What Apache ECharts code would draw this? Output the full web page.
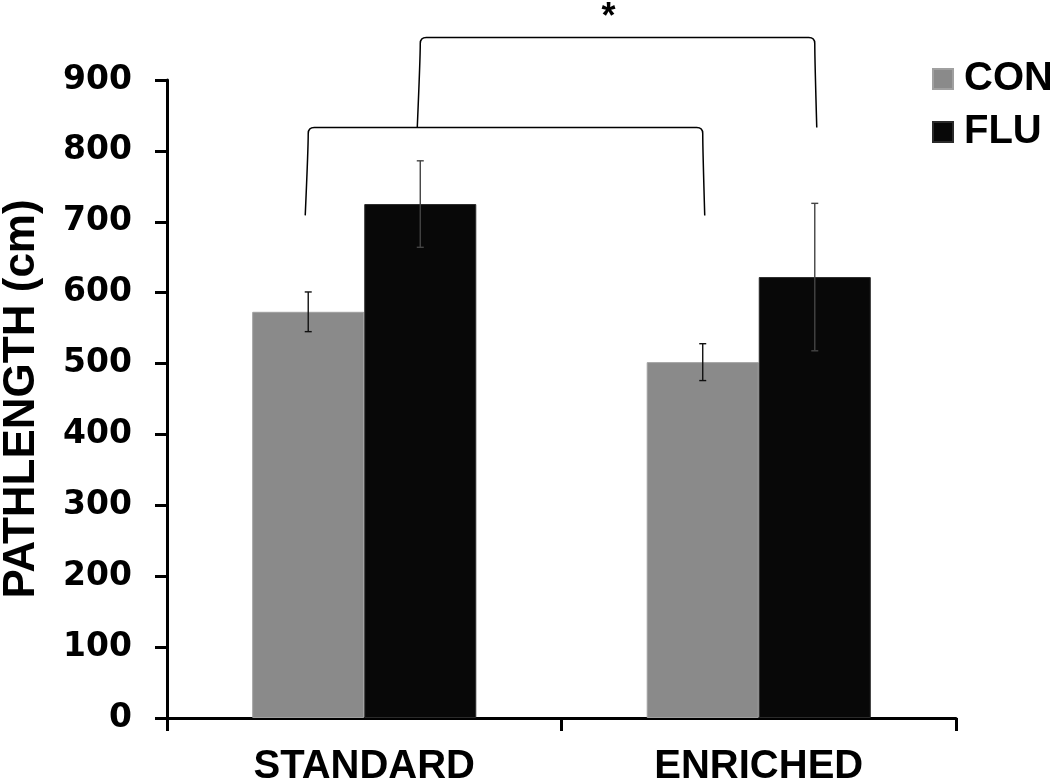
<!DOCTYPE html>
<html><head><meta charset="utf-8">
<script src="https://cdn.jsdelivr.net/npm/echarts@6/dist/echarts.min.js"></script>
<style>html,body{margin:0;padding:0;background:#fff}#c{width:1050px;height:783px}</style>
</head><body><div id="c"></div>
<script>
const categories = ['STANDARD', 'ENRICHED'];
const seriesNames = ['CON', 'FLU'];
const conValues = [573, 502];
const conErrors = [28, 26];
const fluValues = [725, 622];
const fluErrors = [61, 104];
const yTicks = [0, 100, 200, 300, 400, 500, 600, 700, 800, 900];
// brackets: [catStart, seriesStart, catEnd, seriesEnd, legBottom, top]
const brackets = [
  [0, 0, 1, 0, 709, 833],
  [0, 1, 1, 1, 833, 960]
];
const sigLabel = '*';
const sigValue = 988;

const FONT = 'Liberation Sans, Arial, sans-serif';
const FONT_WIDE = 'DejaVu Sans, sans-serif';
const BAR_RATIO = 0.284;
const colors = ['#8a8a8a', '#080808'];

function offsetFor(api, s) {
  const band = api.size([1, 0])[0];
  return (s === 0 ? -1 : 1) * band * BAR_RATIO / 2;
}

function errorRender(sIdx) {
  return function (params, api) {
    const c = api.value(0), v = api.value(1), e = api.value(2);
    const off = offsetFor(api, sIdx);
    const top = api.coord([c, v + e]);
    const bot = api.coord([c, v - e]);
    const x = top[0] + off;
    const cap = 3.5;
    const st = { stroke: sIdx === 0 ? '#111' : '#444', lineWidth: 1.4 };
    return { type: 'group', children: [
      { type: 'line', shape: { x1: x, y1: top[1], x2: x, y2: bot[1] }, style: st },
      { type: 'line', shape: { x1: x - cap, y1: top[1], x2: x + cap, y2: top[1] }, style: st },
      { type: 'line', shape: { x1: x - cap, y1: bot[1], x2: x + cap, y2: bot[1] }, style: st }
    ]};
  };
}

function bracketRender(params, api) {
  const c0 = api.value(0), s0 = api.value(1), c1 = api.value(2), s1 = api.value(3);
  const yl = api.value(4), yt = api.value(5);
  const pL = api.coord([c0, yl]), pT = api.coord([c0, yt]);
  const qL = api.coord([c1, yl]);
  const x0 = pL[0] + offsetFor(api, s0);
  const x1 = qL[0] + offsetFor(api, s1);
  const yb = pL[1], ytp = pT[1];
  const r = 6;
  const path = 'M' + (x0 - 3) + ' ' + yb + ' Q' + (x0) + ' ' + (ytp + 20) + ' ' + x0 + ' ' + (ytp + r) +
    ' Q' + x0 + ' ' + ytp + ' ' + (x0 + r) + ' ' + ytp +
    ' L' + (x1 - r) + ' ' + ytp + ' Q' + x1 + ' ' + ytp + ' ' + x1 + ' ' + (ytp + r) +
    ' Q' + (x1) + ' ' + (ytp + 20) + ' ' + (x1 + 2) + ' ' + yb;
  return { type: 'path', shape: { pathData: path }, style: { stroke: '#000', lineWidth: 1.5, fill: null } };
}

function sigRender(params, api) {
  const b = brackets[brackets.length - 1];
  const pA = api.coord([b[0], sigValue]), pB = api.coord([b[2], sigValue]);
  const x = (pA[0] + offsetFor(api, b[1]) + pB[0] + offsetFor(api, b[3])) / 2 - 9;
  return { type: 'text', x: x, y: pA[1], style: { text: sigLabel, font: 'bold 36px ' + FONT, fill: '#000', align: 'center', verticalAlign: 'middle' } };
}

const chart = echarts.init(document.getElementById('c'));
chart.setOption({
  animation: false,
  backgroundColor: '#fff',
  grid: { left: 167, right: 94, top: 80, bottom: 65, containLabel: false, outerBoundsMode: 'none' },
  legend: {
    data: seriesNames, orient: 'vertical', left: 927, top: 54,
    itemWidth: 20, itemHeight: 20, itemGap: 13, icon: 'rect',
    textStyle: { fontFamily: FONT, fontWeight: 'bold', fontSize: 40, color: '#000', padding: [0, 0, 0, 6] }
  },
  xAxis: {
    type: 'category', data: categories, boundaryGap: true,
    axisLine: { lineStyle: { color: '#000', width: 3 } },
    axisTick: { show: true, length: 13, lineStyle: { color: '#000', width: 3 } },
    axisLabel: { fontFamily: FONT, fontWeight: 'bold', fontSize: 40, color: '#000', margin: 29 }
  },
  yAxis: {
    type: 'value', min: yTicks[0], max: yTicks[yTicks.length - 1], interval: 100,
    name: 'PATHLENGTH (cm)', nameLocation: 'middle', nameGap: 123, nameRotate: 90,
    nameTextStyle: { fontFamily: FONT, fontWeight: 'bold', fontSize: 44, color: '#000' },
    axisLine: { show: true, lineStyle: { color: '#000', width: 3 } },
    axisTick: { show: true, length: 12, lineStyle: { color: '#000', width: 3 } },
    splitLine: { show: false },
    axisLabel: { fontFamily: FONT_WIDE, fontWeight: 'bold', fontSize: 33, color: '#000', margin: 35 }
  },
  series: [
    { name: 'CON', type: 'bar', data: conValues, barWidth: (BAR_RATIO * 100) + '%', barGap: '0%',
      itemStyle: { color: colors[0], borderColor: '#a0a0a0', borderWidth: 1 } },
    { name: 'FLU', type: 'bar', data: fluValues, barWidth: (BAR_RATIO * 100) + '%', barGap: '0%',
      itemStyle: { color: colors[1], borderColor: '#2a2a2a', borderWidth: 1 } },
    { type: 'custom', renderItem: errorRender(0), data: conValues.map((v, i) => [i, v, conErrors[i]]), z: 5, silent: true },
    { type: 'custom', renderItem: errorRender(1), data: fluValues.map((v, i) => [i, v, fluErrors[i]]), z: 5, silent: true },
    { type: 'custom', renderItem: bracketRender, data: brackets, clip: false, z: 6, silent: true },
    { type: 'custom', renderItem: sigRender, data: [[0]], clip: false, z: 6, silent: true }
  ]
});
</script></body></html>
